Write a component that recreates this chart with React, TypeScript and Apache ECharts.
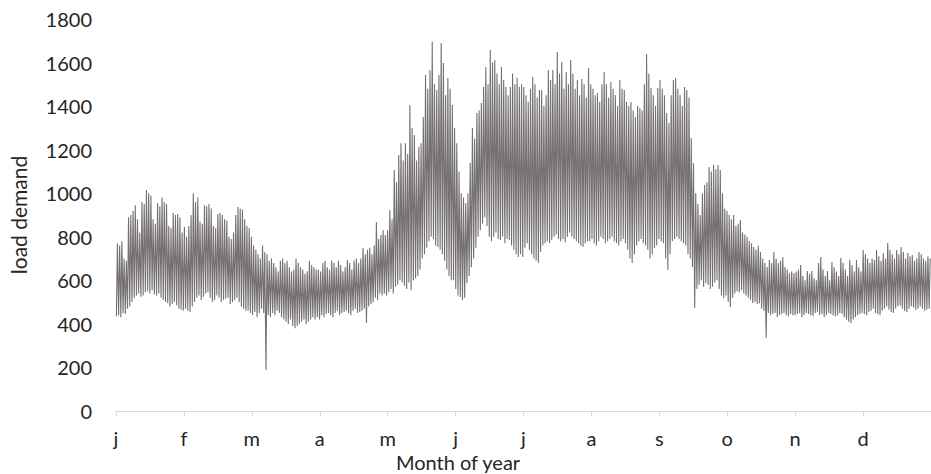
import React, { useEffect, useRef } from "react";
import * as echarts from "echarts";

// Month tick labels
const monthLabels = ["j", "f", "m", "a", "m", "j", "j", "a", "s", "o", "n", "d"];
const hoursPerMonth = 730; // 8760 / 12
const yTicks = { min: 0, max: 1800, step: 200 };

// Daily peak (high) and trough (low) load
const janHigh = [770, 760, 780, 700, 690, 890, 900, 920, 945, 880, 820, 960, 950, 1015, 1000, 990, 880, 860, 955, 940, 980, 960, 950, 850, 840, 910, 900, 905, 890, 820, 845];
const janLow = [435, 440, 430, 450, 445, 470, 480, 500, 520, 530, 540, 525, 530, 545, 550, 540, 555, 535, 530, 540, 520, 510, 500, 495, 480, 490, 500, 485, 470, 465, 460];
const febHigh = [800, 850, 900, 1000, 960, 980, 870, 860, 945, 940, 950, 930, 850, 840, 905, 910, 900, 880, 875, 800, 790, 820, 900, 937, 930, 925, 880, 850];
const febLow = [470, 460, 455, 480, 500, 520, 530, 510, 525, 540, 545, 520, 500, 510, 530, 520, 500, 510, 515, 520, 490, 500, 510, 520, 500, 480, 470, 460];
const marHigh = [840, 800, 760, 740, 720, 700, 760, 730, 720, 690, 700, 680, 660, 640, 690, 700, 680, 690, 660, 640, 650, 700, 680, 660, 650, 630, 640, 690, 670, 660, 650];
const marLow = [460, 450, 440, 455, 430, 450, 470, 450, 188, 440, 430, 450, 440, 460, 450, 430, 420, 410, 400, 420, 390, 380, 390, 400, 410, 420, 400, 410, 420, 430, 420];
const aprHigh = [650, 640, 680, 690, 660, 650, 690, 680, 660, 690, 670, 640, 660, 693, 680, 650, 690, 700, 680, 700, 750, 720, 740, 750, 720, 760, 868, 790, 808, 830];
const aprLow = [430, 420, 440, 430, 445, 450, 440, 430, 450, 460, 440, 450, 455, 460, 450, 440, 460, 470, 450, 455, 460, 470, 404, 480, 490, 500, 520, 510, 540, 530];
const mayHigh = [808, 830, 923, 880, 1107, 1050, 1175, 1230, 1150, 1230, 1180, 1405, 1300, 1267, 1150, 1212, 1230, 1350, 1543, 1480, 1566, 1695, 1500, 1474, 1543, 1690, 1598, 1450, 1529, 1480, 1405];
const mayLow = [540, 530, 545, 560, 540, 570, 580, 600, 590, 575, 560, 590, 555, 600, 610, 620, 650, 700, 720, 750, 780, 800, 790, 760, 753, 740, 720, 690, 650, 620, 600];
const junHigh = [1300, 1230, 1100, 1000, 980, 955, 1000, 1140, 1300, 1250, 1368, 1380, 1414, 1488, 1580, 1500, 1658, 1600, 1612, 1550, 1500, 1580, 1520, 1488, 1450, 1488, 1550, 1500, 1530, 1488];
const junLow = [600, 560, 530, 523, 510, 520, 588, 620, 660, 700, 750, 800, 830, 860, 890, 850, 800, 780, 800, 820, 790, 785, 800, 770, 790, 785, 760, 740, 720, 707];
const julHigh = [1500, 1488, 1450, 1420, 1480, 1534, 1500, 1440, 1474, 1474, 1400, 1450, 1566, 1520, 1566, 1500, 1648, 1550, 1603, 1480, 1557, 1500, 1612, 1550, 1480, 1520, 1450, 1525, 1500, 1440, 1575];
const julLow = [720, 707, 750, 770, 740, 720, 700, 690, 680, 730, 760, 770, 780, 770, 785, 800, 810, 790, 780, 790, 775, 800, 820, 800, 790, 780, 770, 760, 753, 770, 780];
const augHigh = [1500, 1480, 1450, 1460, 1420, 1500, 1557, 1500, 1440, 1511, 1480, 1451, 1400, 1520, 1480, 1474, 1420, 1400, 1419, 1380, 1350, 1400, 1391, 1380, 1500, 1639, 1550, 1483, 1450, 1400, 1483];
const augLow = [780, 790, 770, 760, 780, 800, 790, 770, 780, 790, 800, 780, 770, 760, 780, 790, 770, 740, 700, 680, 720, 760, 780, 790, 770, 760, 740, 700, 720, 750, 760];
const sepHigh = [1520, 1480, 1450, 1368, 1322, 1450, 1520, 1529, 1480, 1450, 1400, 1488, 1474, 1440, 1254, 1139, 1000, 950, 900, 1000, 1038, 1050, 1120, 1100, 1130, 1110, 1130, 1107, 1000, 930];
const sepLow = [790, 780, 770, 700, 647, 720, 780, 790, 800, 790, 780, 770, 760, 720, 700, 661, 473, 560, 580, 600, 570, 588, 580, 560, 570, 590, 600, 560, 530, 519];
const octHigh = [920, 900, 880, 900, 850, 860, 877, 820, 810, 800, 780, 770, 753, 740, 760, 730, 700, 680, 661, 693, 680, 730, 700, 680, 690, 707, 661, 650, 633, 640, 633];
const octLow = [530, 500, 478, 520, 540, 550, 545, 555, 540, 530, 520, 510, 496, 500, 490, 495, 470, 460, 335, 450, 440, 445, 450, 432, 440, 445, 450, 440, 435, 445, 440];
const novHigh = [640, 650, 670, 620, 600, 643, 630, 643, 610, 600, 680, 707, 650, 620, 643, 600, 684, 660, 640, 620, 702, 680, 650, 620, 693, 670, 640, 693, 660, 640];
const novLow = [440, 445, 450, 430, 440, 450, 445, 440, 435, 450, 455, 440, 445, 430, 440, 450, 445, 440, 435, 440, 450, 445, 430, 420, 410, 404, 420, 430, 440, 445];
const decHigh = [739, 720, 700, 680, 700, 693, 739, 710, 690, 725, 700, 771, 740, 720, 700, 739, 720, 753, 730, 700, 725, 710, 716, 690, 700, 730, 720, 700, 690, 710, 700];
const decLow = [450, 445, 440, 455, 460, 470, 450, 445, 440, 460, 470, 480, 465, 455, 450, 470, 480, 485, 470, 460, 455, 470, 480, 475, 465, 470, 480, 470, 460, 465, 470];

const dailyHigh = [...janHigh, ...febHigh, ...marHigh, ...aprHigh, ...mayHigh, ...junHigh, ...julHigh, ...augHigh, ...sepHigh, ...octHigh, ...novHigh, ...decHigh];
const dailyLow = [...janLow, ...febLow, ...marLow, ...aprLow, ...mayLow, ...junLow, ...julLow, ...augLow, ...sepLow, ...octLow, ...novLow, ...decLow];

const FONT = "Lato";
const TEXT_COLOR = "#262626";

export default function App() {
  const ref = useRef<HTMLDivElement>(null);

  useEffect(() => {
    if (!ref.current) return;
    const chart = echarts.init(ref.current, null, { renderer: "svg" });

    const data: [number, number][] = [];
    for (let i = 0; i < dailyHigh.length; i++) {
      data.push([i * 24 + 4, dailyLow[i]]);
      data.push([i * 24 + 15, dailyHigh[i]]);
    }

    chart.setOption({
      animation: false,
      backgroundColor: "#ffffff",
      grid: { left: 116, right: -11, top: 19, bottom: 63, containLabel: false },
      xAxis: {
        type: "value",
        min: 0,
        max: hoursPerMonth * 12,
        interval: hoursPerMonth,
        axisLine: { show: true, lineStyle: { color: "#d9d9d9", width: 1 } },
        axisTick: { show: true, length: 5, lineStyle: { color: "#d9d9d9" } },
        splitLine: { show: false },
        axisLabel: {
          margin: 19,
          fontFamily: FONT,
          fontSize: 20,
          lineHeight: 16,
          color: TEXT_COLOR,
          showMaxLabel: false,
          formatter: (v: number) => monthLabels[Math.round(v / hoursPerMonth)] ?? "",
        },
      },
      yAxis: {
        type: "value",
        min: yTicks.min,
        max: yTicks.max,
        interval: yTicks.step,
        axisLine: { show: false },
        axisTick: { show: false },
        splitLine: { show: false },
        axisLabel: {
          margin: 24,
          fontFamily: FONT,
          fontSize: 20,
          color: TEXT_COLOR,
          formatter: (v: number) => String(v),
        },
      },
      graphic: [
        {
          type: "text",
          x: 18,
          y: 215,
          rotation: Math.PI / 2,
          style: {
            text: "load demand",
            fontFamily: FONT,
            fontSize: 21,
            fill: TEXT_COLOR,
            textAlign: "center",
            textVerticalAlign: "middle",
          },
        },
        {
          type: "text",
          x: 458,
          y: 462,
          style: {
            text: "Month of year",
            fontFamily: FONT,
            fontSize: 20,
            lineHeight: 16,
            fill: TEXT_COLOR,
            textAlign: "center",
            textVerticalAlign: "middle",
          },
        },
      ],
      series: [
        {
          type: "line",
          data,
          showSymbol: false,
          symbol: "none",
          lineStyle: { color: "#767171", width: 1.1 },
          clip: true,
        },
      ],
    });

    return () => chart.dispose();
  }, []);

  return (
    <div
      ref={ref}
      style={{ position: "absolute", left: 0, top: 0, width: 931, height: 474 }}
    />
  );
}
